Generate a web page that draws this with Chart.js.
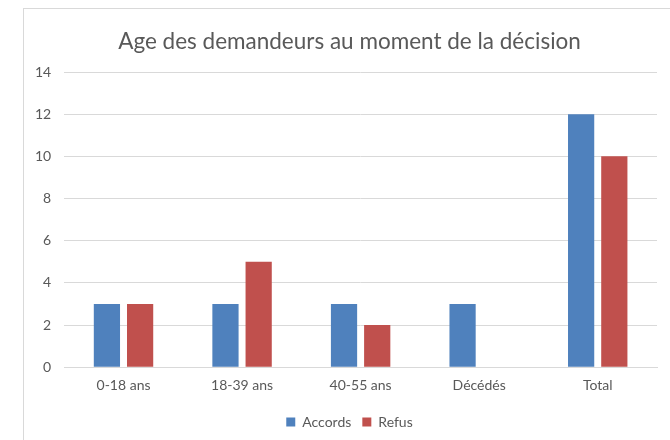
<!DOCTYPE html>
<html>
<head>
<meta charset="utf-8">
<script src="https://cdn.jsdelivr.net/npm/chart.js@4/dist/chart.umd.min.js"></script>
<style>
  html, body { margin: 0; padding: 0; background: #fff; }
  #frame { position: absolute; left: 23px; top: 8px; width: 660px; height: 440px; border: 1px solid #d9d9d9; box-sizing: border-box; }
  #wrap { position: absolute; left: 0; top: 0; width: 670px; height: 440px; }
</style>
</head>
<body>
<div id="frame"></div>
<div id="wrap"><canvas id="chart"></canvas></div>
<script>
// data
const categories = ['0-18 ans', '18-39 ans', '40-55 ans', 'Décédés', 'Total'];
const accords    = [3, 3, 3, 3, 12];
const refus      = [3, 5, 2, 0, 10];
const yTicks     = [0, 2, 4, 6, 8, 10, 12, 14];

const FONT = 'Lato, "Open Sans", sans-serif';
const TEXT = '#595959';

// title and legend sit centred on the frame, not on the plot
const shiftBlocks = {
  id: 'shiftBlocks',
  afterLayout(chart) {
    [chart.titleBlock, chart.legend].forEach(b => {
      if (!b) return;
      b.left += 10;
      b.right += 10;
    });
  },
};

new Chart(document.getElementById('chart').getContext('2d'), {
  type: 'bar',
  data: {
    labels: categories,
    datasets: [
      { label: 'Accords', data: accords, backgroundColor: '#4F81BD', borderWidth: 0 },
      { label: 'Refus',   data: refus,   backgroundColor: '#C0504D', borderWidth: 0 },
    ],
  },
  options: {
    responsive: true,
    maintainAspectRatio: false,
    animation: false,
    categoryPercentage: 0.56,
    barPercentage: 0.79,
    layout: { padding: { left: 22, right: 13, top: 14, bottom: 1 } },
    plugins: {
      title: {
        display: true,
        text: 'Age des demandeurs au moment de la décision',
        color: TEXT,
        font: { family: FONT, size: 22.5, weight: 'normal' },
        padding: { top: 14, bottom: 17 },
      },
      legend: {
        position: 'bottom',
        labels: {
          color: TEXT,
          font: { family: FONT, size: 14 },
          boxWidth: 9, boxHeight: 9,
          padding: 11,
        },
      },
      tooltip: { enabled: false },
    },
    scales: {
      x: {
        grid: { display: false, drawTicks: false },
        border: { color: '#d9d9d9' },
        ticks: { color: TEXT, font: { family: FONT, size: 14 }, padding: 10 },
      },
      y: {
        min: yTicks[0],
        max: yTicks[yTicks.length - 1],
        afterBuildTicks: axis => { axis.ticks = yTicks.map(v => ({ value: v })); },
        grid: { color: '#d9d9d9', drawTicks: false },
        border: { display: false },
        ticks: { color: TEXT, font: { family: FONT, size: 14 }, padding: 13 },
      },
    },
  },
  plugins: [shiftBlocks],
});
</script>
</body>
</html>
